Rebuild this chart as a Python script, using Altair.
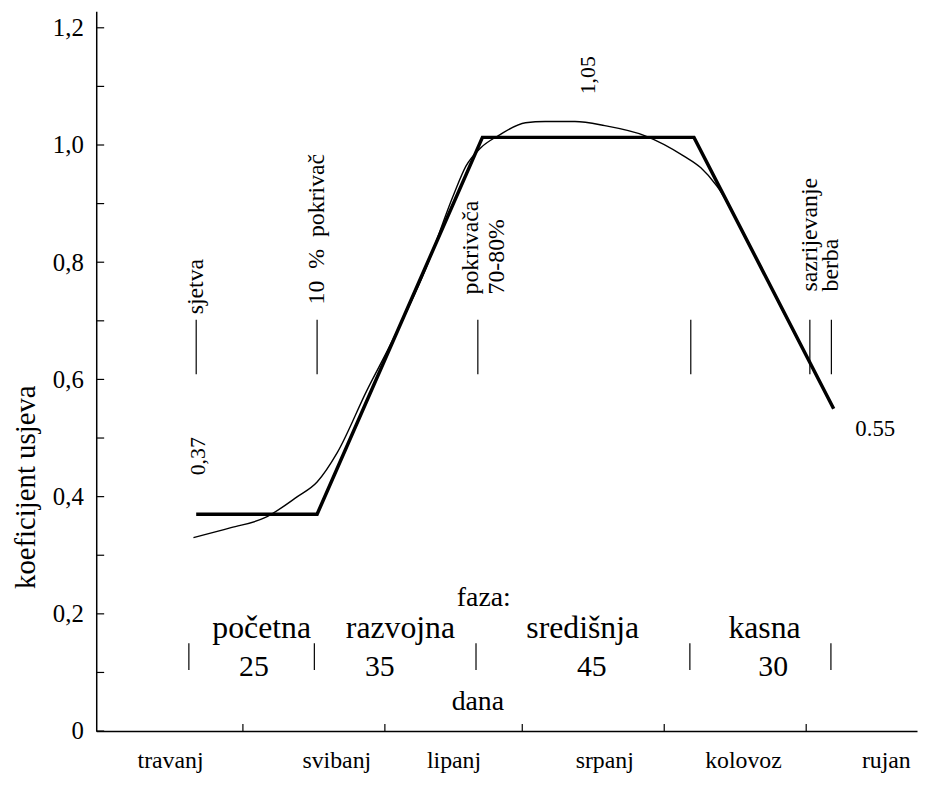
import altair as alt
import pandas as pd

# ---------------- data (x = days counted from 1 April) ----------------
months = ["travanj", "svibanj", "lipanj", "srpanj", "kolovoz", "rujan"]
month_label_day = [14.2, 50.5, 76.1, 109.0, 139.3, 170.5]
month_start_day = [30, 61, 91, 122, 153]

y_tick_values = [0.0, 0.1, 0.2, 0.3, 0.4, 0.5, 0.6, 0.7, 0.8, 0.9, 1.0, 1.1, 1.2]
y_label_values = [0.0, 0.2, 0.4, 0.6, 0.8, 1.0, 1.2]

# crop coefficient (thick, piecewise linear)
kc_day = [19.8, 46.2, 82.3, 128.5, 159.0]
kc_val = [0.37, 0.37, 1.013, 1.013, 0.55]

# measured / smooth curve (thin)
curve_day = [19.2, 27.4, 34.8, 41.9, 46.2, 50.6, 57.0, 62.9, 70.0, 75.9, 78.7, 81.9,
             85.8, 91.7, 96.0, 102.5, 109.0, 117.7, 126.3, 130.0, 133.5, 141.5, 147.9, 154.0]
curve_val = [0.330, 0.347, 0.364, 0.400, 0.425, 0.475, 0.580, 0.670, 0.790, 0.913, 0.964, 0.995,
             1.016, 1.038, 1.040, 1.040, 1.033, 1.016, 0.981, 0.961, 0.930, 0.816, 0.717, 0.625]

# stage markers (upper short lines)
marker_day = [19.8, 46.2, 81.3, 127.8, 153.8, 158.5]
marker_lo = 0.609
marker_hi = 0.702

# stage annotations (rotated)
ann_text = ["sjetva", "10\u00a0\u00a0%\u00a0\u00a0pokrivač", "pokrivača", "70-80%", "sazrijevanje", "berba"]
ann_day = [19.8, 46.2, 79.8, 85.4, 153.8, 158.5]
ann_val = [0.711, 0.728, 0.745, 0.745, 0.750, 0.750]

# value annotations
val_text = ["0,37", "1,05"]
val_day = [20.3, 105.3]
val_y = [0.469, 1.119]

end_text = ["0.55"]
end_day = [159.0]
end_val = [0.55]

# phases (bottom)
phase_div_day = [18.2, 45.6, 80.9, 127.6, 158.4]
phase_div_lo = 0.104
phase_div_hi = 0.150
phase_names = ["početna", "razvojna", "središnja", "kasna"]
phase_name_day = [34.1, 64.4, 104.2, 143.9]
phase_name_val = 0.158
phase_len = ["25", "35", "45", "30"]
phase_len_day = [32.4, 59.9, 106.2, 145.8]
phase_len_val = 0.094
faza_text = ["faza:", "dana"]
faza_day = [82.6, 81.3]
faza_val = [0.214, 0.036]

# ---------------- chart ----------------
W, H = 828, 726
FONT = "Liberation Serif"

xscale = alt.Scale(domain=[-2.03, 177.2], nice=False, zero=False)
yscale = alt.Scale(domain=[0, 1.228], nice=False, zero=True)

x_axis = alt.Axis(values=[], labels=False, ticks=False, domain=True, grid=False, title=None,
                  domainColor="black", domainWidth=1.5)
y_axis = alt.Axis(values=y_label_values, ticks=False, domain=True, grid=False, title=None,
                  domainColor="black", domainWidth=1.5, labelPadding=13,
                  labelFont=FONT, labelFontSize=25, labelColor="black",
                  labelExpr="datum.value == 0 ? '0' : replace(format(datum.value, '.1f'), '.', ',')")


def X(field):
    return alt.X(field, type="quantitative", scale=xscale, axis=x_axis)


def Y(field):
    return alt.Y(field, type="quantitative", scale=yscale, axis=y_axis)


kc_df = pd.DataFrame({"d": kc_day, "v": kc_val})
curve_df = pd.DataFrame({"d": curve_day, "v": curve_val})

kc_line = alt.Chart(kc_df).mark_line(color="black", strokeWidth=3.5, strokeJoin="miter").encode(
    x=X("d"), y=Y("v"))
curve_line = alt.Chart(curve_df).mark_line(color="black", strokeWidth=1.4, interpolate="monotone").encode(
    x=X("d"), y=Y("v"))

# inward ticks
ytick_df = pd.DataFrame({"v": y_tick_values})
ytick = alt.Chart(ytick_df).mark_rule(color="black", strokeWidth=1.2).encode(
    y=Y("v"), x=alt.value(0), x2=alt.value(8))
xtick_df = pd.DataFrame({"d": month_start_day})
xtick = alt.Chart(xtick_df).mark_rule(color="black", strokeWidth=1.2).encode(
    x=X("d"), y=alt.value(H), y2=alt.value(H - 7))

month_df = pd.DataFrame({"m": months, "d": month_label_day})
month_text = alt.Chart(month_df).mark_text(font=FONT, fontSize=24, color="black",
                                           baseline="alphabetic", align="center").encode(
    x=X("d"), y=alt.value(H + 37), text="m:N")

marker_df = pd.DataFrame({"d": marker_day, "lo": [marker_lo] * len(marker_day),
                          "hi": [marker_hi] * len(marker_day)})
markers = alt.Chart(marker_df).mark_rule(color="black", strokeWidth=1.2).encode(
    x=X("d"), y=Y("lo"), y2="hi")

div_df = pd.DataFrame({"d": phase_div_day, "lo": [phase_div_lo] * len(phase_div_day),
                       "hi": [phase_div_hi] * len(phase_div_day)})
dividers = alt.Chart(div_df).mark_rule(color="black", strokeWidth=1.2).encode(
    x=X("d"), y=Y("lo"), y2="hi")

ann_df = pd.DataFrame({"t": ann_text, "d": ann_day, "v": ann_val})
ann = alt.Chart(ann_df).mark_text(font=FONT, fontSize=24, color="black", angle=270,
                                  align="left", baseline="middle").encode(
    x=X("d"), y=Y("v"), text="t:N")

val_df = pd.DataFrame({"t": val_text, "d": val_day, "v": val_y})
vals = alt.Chart(val_df).mark_text(font=FONT, fontSize=22, color="black", angle=270,
                                   align="center", baseline="middle").encode(
    x=X("d"), y=Y("v"), text="t:N")

end_df = pd.DataFrame({"t": end_text, "d": end_day, "v": end_val})
endlab = alt.Chart(end_df).mark_text(font=FONT, fontSize=23, color="black", align="center",
                                     baseline="alphabetic", dx=42, dy=28).encode(
    x=X("d"), y=Y("v"), text="t:N")

pn_df = pd.DataFrame({"t": phase_names, "d": phase_name_day, "v": [phase_name_val] * 4})
pnames = alt.Chart(pn_df).mark_text(font=FONT, fontSize=32, color="black", align="center",
                                    baseline="alphabetic").encode(
    x=X("d"), y=Y("v"), text="t:N")

pl_df = pd.DataFrame({"t": phase_len, "d": phase_len_day, "v": [phase_len_val] * 4})
plens = alt.Chart(pl_df).mark_text(font=FONT, fontSize=30, color="black", align="center",
                                   baseline="alphabetic").encode(
    x=X("d"), y=Y("v"), text="t:N")

fz_df = pd.DataFrame({"t": faza_text, "d": faza_day, "v": faza_val})
fz = alt.Chart(fz_df).mark_text(font=FONT, fontSize=28, color="black", align="center",
                                baseline="alphabetic").encode(
    x=X("d"), y=Y("v"), text="t:N")

ytitle = alt.Chart(pd.DataFrame({"t": ["koeficijent  usjeva"]})).mark_text(
    font=FONT, fontSize=29, color="black", angle=270, align="center", baseline="middle").encode(
    x=alt.value(-71), y=alt.value(480), text="t:N")

chart = alt.layer(
    kc_line, curve_line, ytick, xtick, month_text, markers, dividers,
    ann, vals, endlab, pnames, plens, fz, ytitle
).properties(
    width=W, height=H,
    autosize=alt.AutoSizeParams(type="none"),
    padding={"left": 89, "top": 0, "right": 2, "bottom": 50},
    background="white",
).configure_view(stroke=None)

chart.save("out.html", embed_options={"renderer": "svg", "actions": False})
